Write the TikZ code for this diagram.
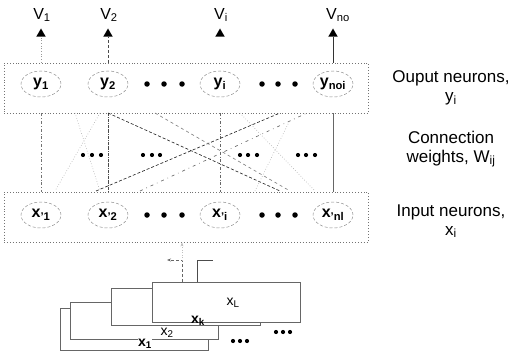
\documentclass[tikz,border=0pt]{standalone}
\usepackage{fontspec}
\setmainfont{Liberation Sans}
\usetikzlibrary{arrows.meta,shapes.geometric}
\begin{document}
\begin{tikzpicture}[x=1pt,y=-1pt,
  layerbox/.style={draw=black!55, dotted, line width=0.9pt, inner sep=0, minimum width=364pt, minimum height=50pt},
  neuron/.style={ellipse, draw=black!45, densely dashed, line width=0.5pt, minimum width=40pt, minimum height=26pt, inner sep=0, font=\fontsize{16}{16}\selectfont\bfseries},
  bigdot/.style={circle, fill=black, inner sep=0, minimum size=5.5pt},
  smalldot/.style={circle, fill=black, inner sep=0, minimum size=4.2pt},
  vlabel/.style={font=\fontsize{16}{16}\selectfont},
  tri/.style={regular polygon, regular polygon sides=3, fill=black, inner sep=0, minimum size=11pt},
  side/.style={font=\fontsize{17}{19}\selectfont, align=center},
  stack/.style={draw=black!60, line width=0.7pt, fill=white},
  stacklbl/.style={font=\fontsize{14}{14}\selectfont\bfseries, inner sep=1pt},
  wline/.style={line width=0.65pt}
]
\useasboundingbox (0,0) rectangle (524,353);

% layer boxes
\node[layerbox] (outbox) at (186,88) {};
\node[layerbox] (inbox) at (186,217) {};

% output neurons
\node[neuron] (y1) at (41,84) {y\textsubscript{1}};
\node[neuron] (y2) at (108,84) {y\textsubscript{2}};
\node[neuron] (yi) at (220,84) {y\textsubscript{i}};
\node[neuron] (yno) at (333,84) {y\textsubscript{noi}};
\foreach \x/\n in {147/a,164/b,182/c,262/d,278/e,295/f}
  \node[bigdot] (od\n) at (\x,84) {};

% input neurons
\node[neuron] (x1) at (41,215) {x\textsubscript{'1}};
\node[neuron] (x2) at (108,215) {x\textsubscript{'2}};
\node[neuron] (xi) at (220,215) {x\textsubscript{'i}};
\node[neuron] (xnl) at (333,215) {x\textsubscript{'nl}};
\foreach \x/\n in {147/a,164/b,182/c,262/d,278/e,295/f}
  \node[bigdot] (id\n) at (\x,215) {};

% outputs V
\node[vlabel] (v1) at (42,15) {V\textsubscript{1}};
\node[vlabel] (v2) at (109,15) {V\textsubscript{2}};
\node[vlabel] (vi) at (221,15) {V\textsubscript{i}};
\node[vlabel] (vno) at (338,15) {V\textsubscript{no}};
\node[tri] (t1) at (41,34) {};
\node[tri] (t2) at (108,34) {};
\node[tri] (ti) at (220,34) {};
\node[tri] (tno) at (333,34) {};
\draw[black!40, dotted, line width=0.7pt] (outbox.north -| t1) -- (t1.south);
\draw[black!70, densely dashed, line width=0.6pt] (outbox.north -| t2) -- (t2.south);
\draw[black!80, line width=0.7pt] (outbox.north -| tno) -- (tno.south);

% connection weights
\coordinate (a1) at (55,191);  \coordinate (a2) at (75,113);
\coordinate (a3) at (96,191);  \coordinate (a4) at (100,113);
\coordinate (a5) at (100,191); \coordinate (a6) at (140,191);
\coordinate (a7) at (155,113); \coordinate (a8) at (280,191);
\coordinate (a9) at (280,113); \coordinate (a10) at (290,191);
\coordinate (a11) at (307,113);\coordinate (a12) at (255,191);
\coordinate (a13) at (290,120);\coordinate (a14) at (240,113);
\coordinate (a15) at (315,191);\coordinate (a16) at (108,113);
\draw[wline, black!55, dashdotted] (outbox.south -| y1) -- (inbox.north -| x1);
\draw[wline, black!70, densely dashdotted] (outbox.south -| y2) -- (inbox.north -| x2);
\draw[wline, black!60, dashdotted] (outbox.south -| yi) -- (inbox.north -| xi);
\draw[wline, black!60] (outbox.south -| yno) -- (inbox.north -| xnl);
\draw[wline, black!85, densely dashed] (a16) -- (a8);
\draw[wline, black!85, densely dashed] (a3) -- (a9);
\draw[wline, black!60, loosely dashdotted] (a6) -- (a11);
\draw[wline, black!50, dashed] (a7) -- (a10);
\draw[wline, black!30, dotted] (a4) -- (a1);
\draw[wline, black!30, dotted] (a2) -- (a5);
\draw[wline, black!30, dotted] (a12) -- (a13);
\draw[wline, black!30, dotted] (a14) -- (a15);
\foreach \x/\n in {83/a,92/b,101/c,143/d,152/e,160/f,240/g,248/h,257/i,298/j,306/k,315/l}
  \node[smalldot] (cd\n) at (\x,155) {};

% side labels
\node[side] (lout) at (451,88) {Ouput neurons,\\y\textsubscript{i}};
\node[side] (lw) at (451,149) {Connection\\weights, W\textsubscript{ij}};
\node[side] (lin) at (451,221) {Input neurons,\\x\textsubscript{i}};

% stacked input patterns
\node[stack, minimum width=148pt, minimum height=42pt, inner sep=0] (s1) at (134,329) {};
\node[stack, minimum width=148pt, minimum height=37pt, inner sep=0] (s2) at (144,320.5) {};
\node[stack, minimum width=149pt, minimum height=37pt, inner sep=0] (sk) at (185.5,306.5) {};
\node[stack, minimum width=148pt, minimum height=40pt, inner sep=0] (sl) at (226,302) {};
\node[stacklbl, fill=white, inner sep=0.5pt] (lx1) at (145,344) {x\textsubscript{1}};
\node[stacklbl, font=\fontsize{14}{14}\selectfont] (lx2) at (167,333) {x\textsubscript{2}};
\node[stacklbl] (lxk) at (198,321) {x\textsubscript{k}};
\node[stacklbl, font=\fontsize{14}{14}\selectfont] (lxl) at (233,303) {x\textsubscript{L}};
\foreach \x/\n in {233/a,240/b,247/c}
  \node[smalldot] (sd\n) at (\x,341) {};
\foreach \x/\n in {276/a,283/b,290/c}
  \node[smalldot] (se\n) at (\x,332) {};

% feed arrows
\coordinate (b1) at (182,260); \coordinate (b2) at (167,260);
\coordinate (b3) at (197,260); \coordinate (b4) at (213,260);
\draw[black!60, densely dashed, line width=0.6pt, -{Stealth[length=4pt,width=3pt]}] (sl.north -| b1) -- (b1) -- (b2);
\draw[black!70, line width=0.6pt] (sl.north -| b3) -- (b3) -- (b4);
\draw[black!25, dotted, line width=0.5pt, -{Stealth[length=4pt,width=3pt]}] (b1) -- (inbox.south -| b1);
\end{tikzpicture}
\end{document}
